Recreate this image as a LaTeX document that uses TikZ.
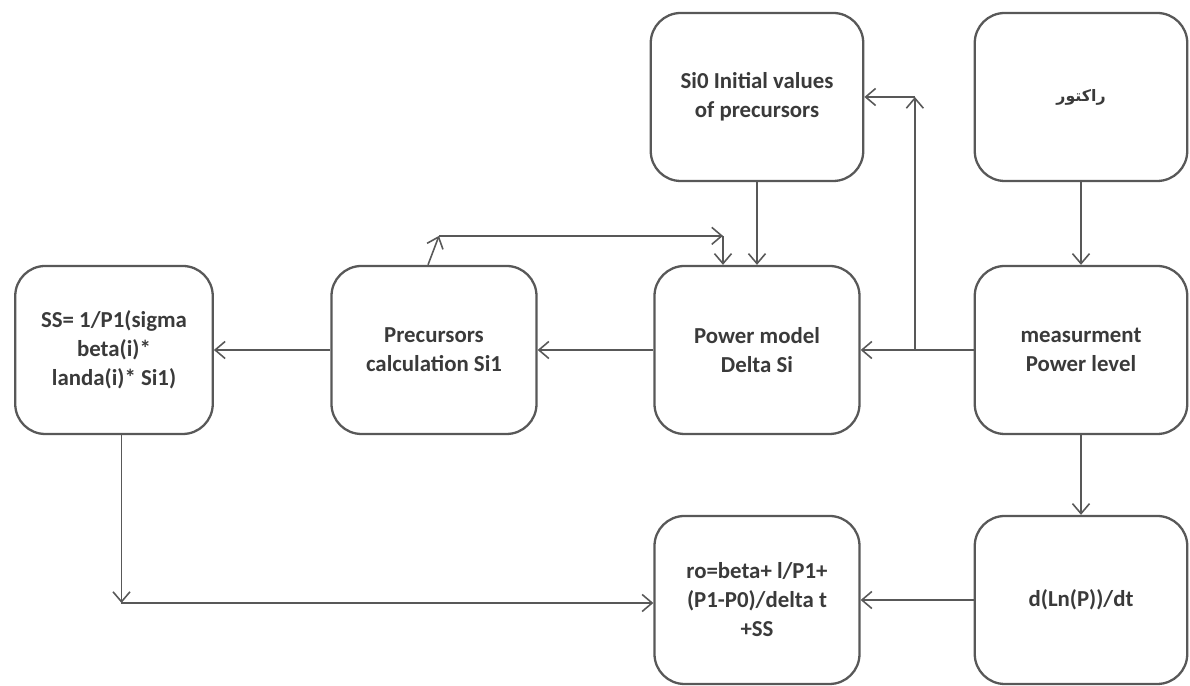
\documentclass[tikz,border=0pt]{standalone}
\usepackage{fontspec}
\setmainfont{Carlito}
\newfontfamily\arabicfont[Script=Arabic]{DejaVu Sans}
\TeXXeTstate=1
\usepackage{tikz}
\usetikzlibrary{positioning}
\usetikzlibrary{shapes,arrows,calc,arrows.meta}
\definecolor{boxline}{RGB}{88,88,88}
\definecolor{boxtext}{RGB}{58,58,58}

\begin{document}
\begin{tikzpicture}[node distance=6.46cm, auto,
    block/.style={draw=boxline, line width=1.3pt, rectangle, rounded corners=0.6cm,
      minimum width=4.1cm, minimum height=3.36cm, align=center, text=boxtext,
      font=\bfseries\fontsize{13}{16.5}\selectfont},
    wideblock/.style={block, minimum width=4.25cm},
    link/.style={draw=boxline, line width=0.9pt, -{Straight Barb[length=2mm,width=3.4mm]}}]
    \useasboundingbox (0,0) rectangle (23.8,13.72);
    % Nodes
    \node [block] (power) at (15.14,6.72) {Power model\\Delta Si};
    \node [block, left of=power] (prec) {Precursors\\calculation Si1};
    \node [block, left of=prec, xshift=0.06cm, minimum width=3.95cm] (ss) {SS= 1/P1(sigma\\beta(i)*\\landa(i)* Si1)};
    \node [wideblock, right of=power, xshift=0.02cm] (measure) {measurment\\Power level};
    \node [wideblock, above of=power, node distance=5.06cm] (init) {Si0 Initial values\\of precursors};
    \node [wideblock, above of=measure, node distance=5.06cm] (reactor) {\arabicfont\fontsize{9}{11}\selectfont\beginR راکتور\endR};
    \node [block, below of=power, node distance=5cm] (ro) {ro=beta+ l/P1+\\(P1-P0)/delta t\\+SS};
    \node [wideblock, below of=measure, node distance=5cm] (dlnp) {d(Ln(P))/dt};

    \coordinate (split) at ($(power.east)!0.48!(measure.west)$);
    \coordinate (corner) at (split |- init);
    \coordinate (loopA) at ($(prec.north)+(0.1,0.58)$);
    \coordinate (loopB) at ($(power.north)+(-0.68,0.58)$);
    \coordinate (ssturn) at ($(ss.south |- ro.west)+(0.15,-0.06)$);
    % Arrows
    \draw [link] (init) -- (power);
    \draw [link] (reactor) -- (measure);
    \draw [link] (measure) -- (power);
    \draw [link] (split) -- (corner);
    \draw [link] (corner) -- (init);
    \draw [link] (power) -- (prec);
    \draw [link] (prec) -- (ss);
    \draw [link] ([xshift=-0.12cm]prec.north) -- (loopA);
    \draw [link] (loopA) -- (loopB);
    \draw [link] (loopB) -- (loopB |- power.north);
    \draw [link] ([xshift=0.15cm]ss.south) -- (ssturn);
    \draw [link] (ssturn) -- (ssturn -| ro.west);
    \draw [link] (measure) -- (dlnp);
    \draw [link] (dlnp) -- (ro);
\end{tikzpicture}
\end{document}
